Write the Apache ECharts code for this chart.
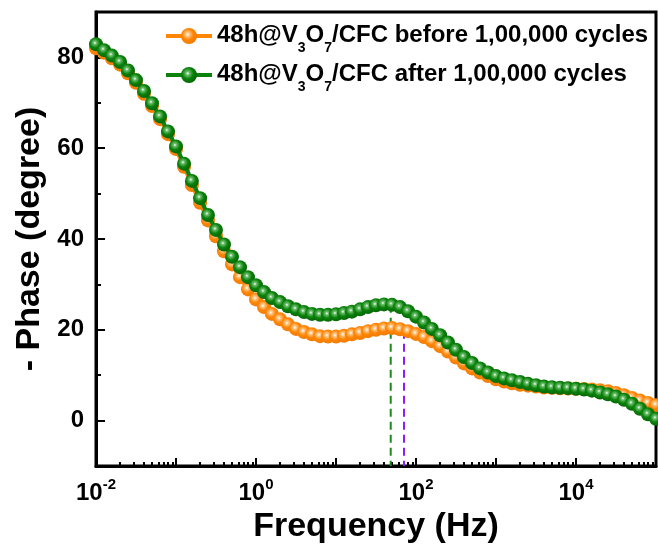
<!DOCTYPE html>
<html>
<head>
<meta charset="utf-8">
<script src="https://cdn.jsdelivr.net/npm/echarts@6/dist/echarts.min.js"></script>
<style>
html,body{margin:0;padding:0;background:#fff;}
#chart{width:658px;height:548px;}
</style>
</head>
<body>
<div id="chart"></div>
<script>
// ---- data ----
const freqHz = [
  0.01,0.0126,0.0158,0.02,0.0251,0.0316,0.0398,0.0501,0.0631,0.0794,
  0.1,0.126,0.158,0.2,0.251,0.316,0.398,0.501,0.631,0.794,
  1,1.26,1.58,2,2.51,3.16,3.98,5.01,6.31,7.94,
  10,12.6,15.8,20,25.1,31.6,39.8,50.1,63.1,79.4,
  100,126,158,200,251,316,398,501,631,794,
  1000,1260,1580,2000,2510,3160,3980,5010,6310,7940,
  10000,12600,15800,20000,25100,31600,39800,50100,63100,79400,
  100000
];
const phaseBefore = [
  82.0,81.0,79.8,78.4,76.5,74.4,72.0,69.3,66.4,63.1,
  59.8,55.9,51.9,48.0,44.1,40.6,37.3,34.4,31.6,28.9,
  26.7,25.0,23.5,22.3,21.2,20.2,19.5,19.0,18.6,18.5,
  18.5,18.7,19.0,19.3,19.7,20.0,20.3,20.4,20.1,19.7,
  19.1,18.4,17.5,16.4,15.2,13.9,12.6,11.5,10.6,9.8,
  9.1,8.6,8.2,7.9,7.7,7.5,7.3,7.2,7.1,7.05,
  7.0,6.95,6.85,6.7,6.45,6.1,5.6,5.0,4.4,3.9,
  3.4
];
const phaseAfter = [
  82.9,81.6,80.4,79.0,77.1,75.0,72.6,69.9,67.0,63.7,
  60.4,56.6,52.8,49.0,45.3,42.0,38.8,36.1,33.8,31.6,
  29.8,28.3,27.0,26.1,25.2,24.5,23.9,23.5,23.3,23.3,
  23.4,23.7,24.0,24.5,25.0,25.4,25.6,25.5,25.0,24.1,
  22.9,21.6,20.2,18.8,17.2,15.6,14.0,12.7,11.5,10.6,
  9.8,9.3,8.9,8.5,8.1,7.8,7.5,7.35,7.25,7.15,
  7.0,6.85,6.6,6.2,5.8,5.3,4.6,3.7,2.6,1.4,
  0.4
];
// vertical dashed drop lines: [frequency, phase at top]
const dropAfter = [48.3, 25.5];
const dropBefore = [70.8, 19.8];

const seriesNames = ['before', 'after'];
const legendLabels = {
  before: '{a|48h@V}{s|3}{a|O}{s|7}{a|/CFC before 1,00,000 cycles}',
  after: '{a|48h@V}{s|3}{a|O}{s|7}{a|/CFC after 1,00,000 cycles}'
};

const xLabelValues = [0.01, 1, 100, 10000];
const xLabelExp = {0.01: '-2', 1: '0', 100: '2', 10000: '4'};
const xMajorTicks = [0.01, 0.1, 1, 10, 100, 1000, 10000, 100000];
const xMinorTicks = [];
for (let d = 0; d < xMajorTicks.length - 1; d++) {
  for (let m = 2; m <= 9; m++) xMinorTicks.push(m * xMajorTicks[d]);
}
const yMajorTicks = [0, 20, 40, 60, 80];
const yMinorTicks = [10, 30, 50, 70];

// ---- styles ----
const FONT = '"Liberation Sans", Arial, Helvetica, sans-serif';
const ORANGE = '#ff8505';
const GREEN = '#0b820b';
function ball(light, mid, edge) {
  return {
    type: 'radial', x: 0.42, y: 0.4, r: 0.62,
    colorStops: [
      {offset: 0, color: '#ffffff'},
      {offset: 0.18, color: light},
      {offset: 0.55, color: mid},
      {offset: 1, color: edge}
    ]
  };
}

const chart = echarts.init(document.getElementById('chart'), null, {renderer: 'canvas'});
const axisCommon = {fontFamily: FONT, fontWeight: 'bold', color: '#000'};

chart.setOption({
  animation: false,
  backgroundColor: '#fff',
  grid: {
    left: 96, right: 2, top: 12, bottom: 82,
    show: true, borderColor: '#000', borderWidth: 3,
    outerBoundsMode: 'none'
  },
  legend: {
    orient: 'vertical',
    left: 159, top: 18,
    itemWidth: 46, itemHeight: 20, itemGap: 7,
    selectedMode: false,
    data: seriesNames,
    formatter: n => legendLabels[n],
    lineStyle: {width: 4},
    textStyle: {
      color: '#000', fontFamily: FONT, fontWeight: 'bold', fontSize: 24,
      rich: {
        a: {fontFamily: FONT, fontWeight: 'bold', fontSize: 24, color: '#000', verticalAlign: 'top', padding: [6, 0, 0, 0]},
        s: {fontFamily: FONT, fontWeight: 'bold', fontSize: 14, color: '#000', verticalAlign: 'top', padding: [24, 0, 0, 0]}
      }
    }
  },
  xAxis: [{
    type: 'log', min: 0.01, max: 100000, logBase: 10,
    name: 'Frequency (Hz)', nameLocation: 'middle', nameGap: 36,
    nameTextStyle: Object.assign({fontSize: 34}, axisCommon),
    axisLine: {show: true, onZero: false, lineStyle: {color: '#000', width: 3}},
    axisTick: {show: true, inside: true, length: 8, lineStyle: {color: '#000', width: 2}, customValues: xMajorTicks},
    axisLabel: {
      show: true, margin: 11, customValues: xLabelValues,
      formatter: v => {
        const key = Object.keys(xLabelExp).find(k => Math.abs(Number(k) - v) < 1e-9 * Math.max(1, v));
        return '{a|10}{p|' + (key !== undefined ? xLabelExp[key] : '') + '}';
      },
      rich: {
        a: {fontFamily: FONT, fontWeight: 'bold', fontSize: 24, color: '#000', verticalAlign: 'top', padding: [4, 0, 0, 0]},
        p: {fontFamily: FONT, fontWeight: 'bold', fontSize: 15, color: '#000', verticalAlign: 'top'}
      }
    },
    splitLine: {show: false}, minorTick: {show: false}
  }, {
    type: 'log', min: 0.01, max: 100000, logBase: 10, position: 'bottom', gridIndex: 0,
    axisLine: {show: false, onZero: false},
    axisTick: {show: true, inside: true, length: 4, lineStyle: {color: '#000', width: 2}, customValues: xMinorTicks},
    axisLabel: {show: false},
    splitLine: {show: false}
  }],
  yAxis: [{
    type: 'value', min: -10, max: 90,
    name: '- Phase (degree)', nameLocation: 'middle', nameGap: 44, nameRotate: 90,
    nameTextStyle: Object.assign({fontSize: 34}, axisCommon),
    axisLine: {show: true, onZero: false, lineStyle: {color: '#000', width: 3}},
    axisTick: {show: true, inside: true, length: 9, lineStyle: {color: '#000', width: 2}, customValues: yMajorTicks},
    axisLabel: Object.assign({show: true, margin: 12, fontSize: 24, customValues: yMajorTicks}, axisCommon),
    splitLine: {show: false}
  }, {
    type: 'value', min: -10, max: 90, position: 'left', gridIndex: 0,
    axisLine: {show: false, onZero: false},
    axisTick: {show: true, inside: true, length: 5, lineStyle: {color: '#000', width: 2}, customValues: yMinorTicks},
    axisLabel: {show: false},
    splitLine: {show: false}
  }],
  series: [
    {
      type: 'line', name: 'dropAfter', z: 1, symbol: 'none', silent: true,
      data: [[dropAfter[0], dropAfter[1]], [dropAfter[0], -10]],
      lineStyle: {color: '#1c8a1c', width: 2, type: [8, 5]}
    },
    {
      type: 'line', name: 'dropBefore', z: 1, symbol: 'none', silent: true,
      data: [[dropBefore[0], dropBefore[1]], [dropBefore[0], -10]],
      lineStyle: {color: '#8a1cff', width: 2, type: [8, 5]}
    },
    {
      type: 'line', name: 'before', z: 2,
      data: freqHz.map((f, i) => [f, phaseBefore[i]]),
      symbol: 'circle', symbolSize: 14, showAllSymbol: true,
      lineStyle: {color: ORANGE, width: 4},
      itemStyle: {color: ball('#ffc98a', ORANGE, '#f07a00'), borderWidth: 0},
      emphasis: {disabled: true}
    },
    {
      type: 'line', name: 'after', z: 3,
      data: freqHz.map((f, i) => [f, phaseAfter[i]]),
      symbol: 'circle', symbolSize: 14, showAllSymbol: true,
      lineStyle: {color: GREEN, width: 4},
      itemStyle: {color: ball('#6fbf6f', GREEN, '#056505'), borderWidth: 0},
      emphasis: {disabled: true}
    }
  ]
});
</script>
</body>
</html>
